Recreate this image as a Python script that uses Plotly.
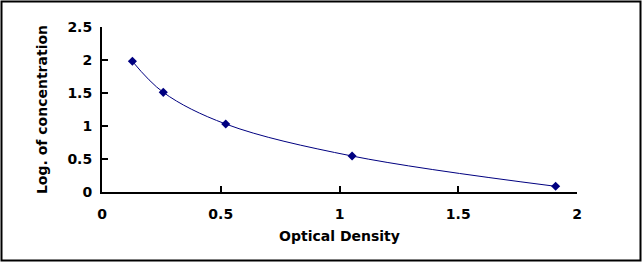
import plotly.graph_objects as go

od = [0.128, 0.258, 0.521, 1.053, 1.91]
logc = [1.98, 1.51, 1.03, 0.545, 0.086]
x_ticks = [0, 0.5, 1, 1.5, 2]
y_ticks = [0, 0.5, 1, 1.5, 2, 2.5]

W, H = 642, 262
L, R, T, B = 102, 65, 27, 70
pw, ph = W - L - R, H - T - B

fam = "DejaVu Sans, Verdana, sans-serif"
tickfont = dict(family=fam, size=14, color="black")
titlefont = dict(family=fam, size=14, color="black")

fig = go.Figure()
fig.add_trace(go.Scatter(
    x=od, y=logc, mode="lines+markers",
    line=dict(color="#000080", width=1, shape="spline", smoothing=1.0),
    marker=dict(symbol="diamond", size=7, color="#000080"),
    showlegend=False,
))

fig.update_layout(
    width=W, height=H,
    margin=dict(l=L, r=R, t=T, b=B),
    paper_bgcolor="white", plot_bgcolor="white",
    xaxis=dict(
        range=[0, 2], tickvals=x_ticks, ticktext=[f"<b>{v:g}</b>" for v in x_ticks],
        tickfont=tickfont, ticklabelstandoff=8,
        showgrid=False, zeroline=False, showline=True, linecolor="black", linewidth=2,
        ticks="inside", ticklen=6, tickwidth=2, tickcolor="black",
        title=dict(text="<b>Optical Density</b>", font=titlefont, standoff=10),
    ),
    yaxis=dict(
        range=[0, 2.5], tickvals=y_ticks, ticktext=[f"<b>{v:g}</b>" for v in y_ticks],
        tickfont=tickfont, ticklabelstandoff=5,
        showgrid=False, zeroline=False, showline=True, linecolor="black", linewidth=2,
        ticks="inside", ticklen=6, tickwidth=2, tickcolor="black",
        title=dict(text="<b>Log. of concentration</b>", font=titlefont, standoff=16),
    ),
    shapes=[dict(
        type="rect", xref="paper", yref="paper",
        x0=-(L - 1.5) / pw, x1=1 + (R - 1.5) / pw,
        y0=-(B - 1.5) / ph, y1=1 + (T - 1.5) / ph,
        line=dict(color="black", width=2),
    )],
)

fig.write_html("out.html")
